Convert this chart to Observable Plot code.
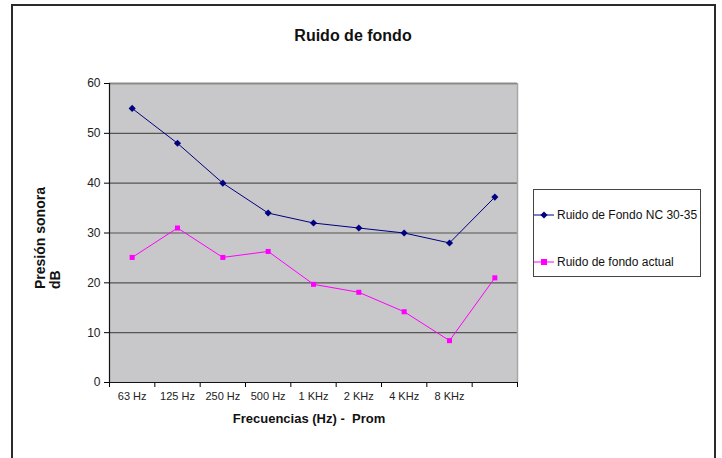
<!DOCTYPE html>
<html>
<head>
<meta charset="utf-8">
<script src="https://cdn.jsdelivr.net/npm/d3@7"></script>
<script src="https://cdn.jsdelivr.net/npm/@observablehq/plot@0.6"></script>
<style>
  html, body { margin: 0; padding: 0; background: #fff; }
  #wrap { position: relative; width: 722px; height: 458px; overflow: hidden; font-family: "Liberation Sans", Arial, sans-serif; }
  #frame { position: absolute; left: 11px; top: 4px; width: 705px; height: 470px; border: 2px solid #2a2a2a; box-sizing: border-box; }
  #title { position: absolute; left: 0; width: 706px; top: 27px; text-align: center; font-weight: bold; font-size: 16px; color: #111; }
  #ylab { position: absolute; left: 33px; top: 289px; transform-origin: 0 0; transform: rotate(-90deg); font-weight: bold; font-size: 14px; line-height: 15px; color: #111; white-space: nowrap; }
  #xlab { position: absolute; left: 100px; width: 418px; top: 411px; text-align: center; font-weight: bold; font-size: 13px; color: #111; white-space: pre; }
  #legend { position: absolute; left: 533px; top: 189px; width: 168px; height: 88px; border: 1px solid #444; box-sizing: border-box; background: #fff; font-size: 12px; color: #111; }
  .item { position: absolute; left: 0; height: 14px; display: flex; align-items: center; }
  .item svg { display: block; }
  svg.plot { position: absolute; left: 0; top: 0; }
</style>
</head>
<body>
<div id="wrap">
  <div id="frame"></div>
  <div id="title">Ruido de fondo</div>
  <div id="ylab">Presión sonora<br>dB</div>
  <div id="xlab">Frecuencias (Hz) -  Prom</div>
  <div id="legend"></div>
</div>
<script>
const categories = ["63 Hz", "125 Hz", "250 Hz", "500 Hz", "1 KHz", "2 KHz", "4 KHz", "8 KHz", ""];
const nc3035 = [55, 48, 40, 34, 32, 31, 30, 28, 37.2];
const actual = [25.1, 31, 25.1, 26.3, 19.7, 18.1, 14.2, 8.4, 21];
const yTicks = [0, 10, 20, 30, 40, 50, 60];
const seriesNames = ["Ruido de Fondo NC 30-35", "Ruido de fondo actual"];
const seriesColors = ["#000080", "#ff00ff"];
const seriesSymbols = ["diamond2", "square2"];

const rows = [];
[nc3035, actual].forEach((vals, s) => {
  vals.forEach((v, i) => rows.push({ pos: i + 0.5, value: v, series: seriesNames[s] }));
});
const boundaries = d3.range(0, categories.length + 1);
const centers = categories.map((c, i) => i + 0.5);
const grid = yTicks.filter(t => t > 0 && t < 60);

const plot = Plot.plot({
  width: 722,
  height: 458,
  marginLeft: 109,
  marginRight: 205,
  marginTop: 83,
  marginBottom: 76,
  x: { domain: [0, categories.length], axis: null },
  y: { domain: [0, 60], axis: null },
  color: { domain: seriesNames, range: seriesColors },
  symbol: { domain: seriesNames, range: seriesSymbols },
  style: { fontFamily: "Liberation Sans, Arial, sans-serif", fontSize: "11px", background: "transparent", overflow: "visible" },
  marks: [
    Plot.frame({ fill: "#c8c8ca", stroke: null }),
    Plot.ruleY(grid, { stroke: "#555", strokeWidth: 1.2 }),
    Plot.ruleY([60], { stroke: "#8a8a8a", strokeWidth: 2 }),
    Plot.ruleX([categories.length], { stroke: "#a8a8a8", strokeWidth: 1.5 }),
    Plot.axisY({ ticks: yTicks, tickSize: 5, tickPadding: 4, label: null, fontSize: 12, color: "#222", stroke: "#000" }),
    Plot.axisX({ ticks: boundaries, tickSize: 5, tickFormat: () => "", label: null, stroke: "#000" }),
    Plot.axisX({ ticks: centers, tickSize: 0, tickPadding: 10, tickFormat: (d) => categories[Math.round(d - 0.5)], label: null, fontSize: 11, color: "#222" }),
    Plot.ruleX([0], { stroke: "#111", strokeWidth: 1.2 }),
    Plot.ruleY([0], { stroke: "#111", strokeWidth: 1.2 }),
    Plot.line(rows, { x: "pos", y: "value", z: "series", stroke: "series", strokeWidth: 1 }),
    Plot.dot(rows, { x: "pos", y: "value", fill: "series", stroke: null, symbol: "series", r: 3.2 })
  ]
});
plot.classList.add("plot");
document.getElementById("wrap").insertBefore(plot, document.getElementById("title"));

const legend = document.getElementById("legend");
const symPaths = {
  diamond2: "M0,-3.6L3.6,0L0,3.6L-3.6,0Z",
  square2: "M-3,-3H3V3H-3Z"
};
const legendTops = [18, 65];
seriesNames.forEach((name, i) => {
  const item = document.createElement("div");
  item.className = "item";
  item.style.top = legendTops[i] + "px";
  item.innerHTML = `<svg width="22" height="14"><line x1="0" x2="20" y1="7" y2="7" stroke="${seriesColors[i]}" stroke-width="1"/><path transform="translate(10,7)" d="${symPaths[seriesSymbols[i]]}" fill="${seriesColors[i]}"/></svg><span style="margin-left:1px">${name}</span>`;
  legend.appendChild(item);
});
</script>
</body>
</html>
